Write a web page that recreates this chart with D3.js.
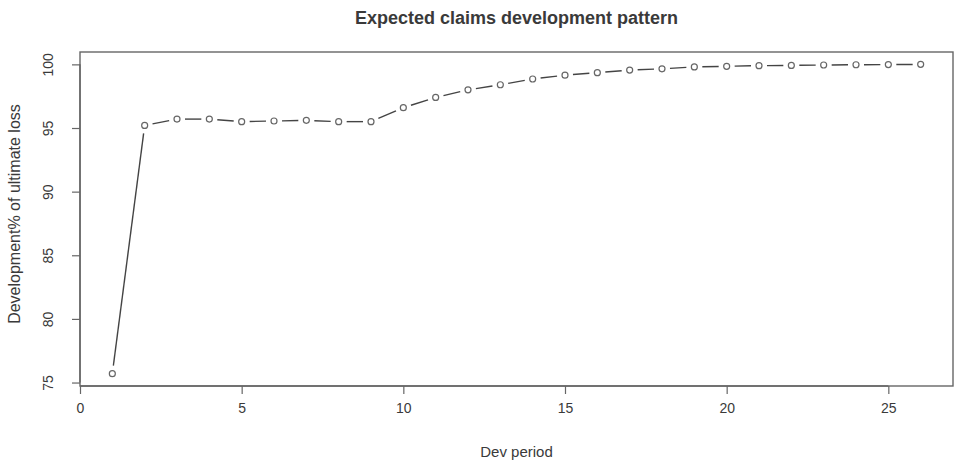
<!DOCTYPE html>
<html>
<head>
<meta charset="utf-8">
<script src="https://cdn.jsdelivr.net/npm/d3@7"></script>
<style>
  body { margin: 0; background: #fff; }
  text { font-family: "Liberation Sans", Arial, sans-serif; fill: #3a3a3a; }
</style>
</head>
<body>
<div id="chart"></div>
<script>
// --- data ---
const devPeriods = d3.range(1, 27);
const devPct = [75.7, 95.2, 95.7, 95.7, 95.5, 95.55, 95.6, 95.5, 95.5, 96.6,
                97.4, 98.0, 98.4, 98.85, 99.15, 99.35, 99.55, 99.65, 99.8, 99.85,
                99.9, 99.92, 99.95, 99.97, 99.98, 100.0];
const xTicks = [0, 5, 10, 15, 20, 25];
const yTicks = [75, 80, 85, 90, 95, 100];

const W = 956, H = 465;
const box = { left: 80, right: 953, top: 52, bottom: 386 };

const svg = d3.select('#chart').append('svg')
    .attr('width', W)
    .attr('height', H);

// R style limits: data range padded by 4%
const x = d3.scaleLinear().domain([0, 27]).range([box.left, box.right]);
const yMin = d3.min(devPct), yMax = d3.max(devPct);
const pad = (yMax - yMin) * 0.04;
const y = d3.scaleLinear().domain([yMin - pad, yMax + pad]).range([box.bottom, box.top]);

// plot frame
svg.append('rect')
    .attr('x', box.left)
    .attr('y', box.top)
    .attr('width', box.right - box.left)
    .attr('height', box.bottom - box.top)
    .attr('fill', 'none')
    .attr('stroke', '#666')
    .attr('stroke-width', 1.4);

// axes
const xAxis = svg.append('g')
    .attr('transform', `translate(0,${box.bottom})`)
    .call(d3.axisBottom(x).tickValues(xTicks).tickSize(8).tickPadding(9));
const yAxis = svg.append('g')
    .attr('transform', `translate(${box.left},0)`)
    .call(d3.axisLeft(y).tickValues(yTicks).tickSize(8).tickPadding(9));

[xAxis, yAxis].forEach(a => {
    a.select('.domain').attr('stroke', '#666').attr('stroke-width', 1.4);
    a.selectAll('.tick line').attr('stroke', '#666').attr('stroke-width', 1.2);
    a.selectAll('.tick text').attr('font-size', 14).attr('fill', '#444')
        .attr('font-family', '"Liberation Sans", Arial, sans-serif');
});
xAxis.select('.domain').attr('d', `M${x(0)},0H${x(25)}`);
yAxis.select('.domain').attr('d', `M0,${y(75)}V${y(100)}`);

// y tick labels are rotated like base R
yAxis.selectAll('.tick text')
    .attr('x', null).attr('dy', null)
    .attr('text-anchor', 'middle')
    .attr('transform', 'translate(-27,0) rotate(-90)');

// type = "b": segments with gaps round each point
const pts = devPeriods.map((p, i) => ({ px: x(p), py: y(devPct[i]) }));
const gap = 8;
const segs = d3.pairs(pts).map(([a, b]) => {
    const dx = b.px - a.px, dy = b.py - a.py;
    const len = Math.hypot(dx, dy);
    const ux = dx / len, uy = dy / len;
    return { x1: a.px + ux * gap, y1: a.py + uy * gap, x2: b.px - ux * gap, y2: b.py - uy * gap, len };
}).filter(s => s.len > 2 * gap);

svg.append('g').selectAll('line')
    .data(segs)
    .enter()
    .append('line')
    .attr('x1', d => d.x1)
    .attr('y1', d => d.y1)
    .attr('x2', d => d.x2)
    .attr('y2', d => d.y2)
    .attr('stroke', '#444')
    .attr('stroke-width', 1.4);

svg.append('g').selectAll('circle')
    .data(pts)
    .enter()
    .append('circle')
    .attr('cx', d => d.px)
    .attr('cy', d => d.py)
    .attr('r', 3)
    .attr('fill', 'none')
    .attr('stroke', '#666')
    .attr('stroke-width', 1.2);

// titles
svg.append('text')
    .attr('x', (box.left + box.right) / 2)
    .attr('y', 24)
    .attr('text-anchor', 'middle')
    .attr('font-size', 18)
    .attr('font-weight', 'bold')
    .attr('fill', '#222')
    .text('Expected claims development pattern');

svg.append('text')
    .attr('x', (box.left + box.right) / 2)
    .attr('y', 457)
    .attr('text-anchor', 'middle')
    .attr('font-size', 15)
    .text('Dev period');

svg.append('text')
    .attr('transform', `translate(20,${(box.top + box.bottom) / 2 - 5}) rotate(-90)`)
    .attr('text-anchor', 'middle')
    .attr('font-size', 16)
    .text('Development% of ultimate loss');
</script>
</body>
</html>
